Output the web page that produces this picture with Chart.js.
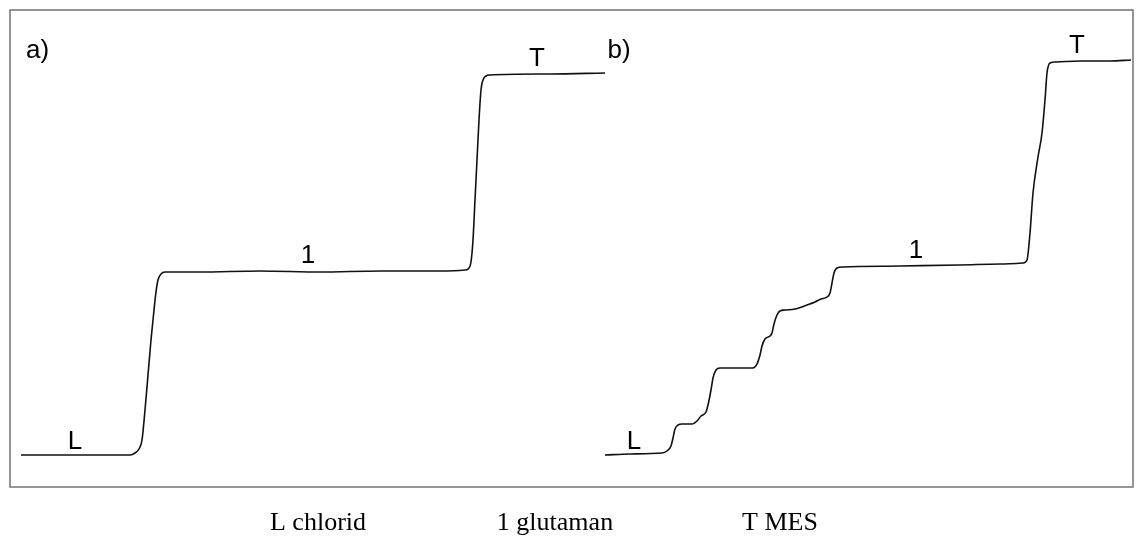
<!DOCTYPE html>
<html>
<head>
<meta charset="utf-8">
<script src="https://cdn.jsdelivr.net/npm/chart.js@4/dist/chart.umd.min.js"></script>
<style>
    html, body { margin: 0; padding: 0; background: #fff; }
    #wrap { width: 1144px; height: 550px; position: relative; }
</style>
</head>
<body>
<div id="wrap"><canvas id="isotachoforeza" width="1144" height="550"></canvas></div>
<script>
// Trace a) - time and detector signal
const aTime = [11, 50, 90, 120, 125, 129, 132, 135, 138, 141, 144, 146, 148, 151, 155, 190, 250, 310, 370, 430,
    455, 459, 461, 463, 465, 467, 469, 471, 473, 476, 480, 540, 595];
const aSignal = [32, 32, 32, 32, 34, 38, 47, 77, 112, 147, 177, 195, 207, 213, 215, 215, 216, 215, 216, 216,
    217, 219, 225, 247, 287, 327, 367, 397, 407, 411, 412, 413, 414];

// Trace b)
const bTime = [595, 620, 652, 657, 661, 663, 665, 668, 672, 682, 687, 691, 696, 698, 701, 703, 706, 710, 730, 743,
    747, 750, 752, 755, 760, 762, 764, 767, 770, 775, 785, 797, 805, 811, 817, 820, 822, 824, 827, 833,
    890, 950, 990, 1013, 1017, 1020, 1023, 1028, 1032, 1035, 1037, 1040, 1046, 1070, 1100, 1121];
const bSignal = [32, 33, 34, 36, 41, 49, 58, 62, 63, 63, 66, 71, 75, 82, 97, 109, 117, 119, 119, 119,
    123, 132, 141, 148, 151, 154, 163, 172, 176, 177, 178, 182, 185, 188, 190, 194, 204, 214, 219, 220,
    221, 222, 223, 224, 227, 254, 294, 330, 354, 387, 414, 424, 425, 426, 426, 427];

// Zone labels placed on the traces
const zoneText = ['a)', 'L', '1', 'T', 'b)', 'L', '1', 'T'];
const zoneTime = [27.5, 65, 298, 527, 609, 624, 906, 1067];
const zoneSignal = [429, 38, 224, 421, 429, 38, 229, 434];

// Key under the figure
const keyText = ['L chlorid', '1 glutaman', 'T MES'];

const toPoints = (xs, ys) => xs.map((x, i) => ({ x: x, y: ys[i] }));

// Draw the frame, zone labels and the key
const decorPlugin = {
    id: 'decor',
    afterDraw(chart) {
        const ctx = chart.ctx;
        const area = chart.chartArea;
        const sx = chart.scales.x;
        const sy = chart.scales.y;
        ctx.save();
        ctx.strokeStyle = '#727272';
        ctx.lineWidth = 1.5;
        ctx.strokeRect(area.left, area.top, area.right - area.left, area.bottom - area.top);

        ctx.fillStyle = '#000';
        ctx.font = '26px "Liberation Sans", Arial, sans-serif';
        ctx.textAlign = 'center';
        ctx.textBaseline = 'alphabetic';
        zoneText.forEach((t, i) => {
            ctx.fillText(t, sx.getPixelForValue(zoneTime[i]), sy.getPixelForValue(zoneSignal[i]));
        });

        // key sits centred under the frame
        ctx.font = '26px "Liberation Serif", "Times New Roman", serif';
        const keyCentre = [318, 555, 780];
        keyText.forEach((t, i) => {
            ctx.fillText(t, keyCentre[i], 530);
        });
        ctx.restore();
    }
};

const traceStyle = {
    borderColor: '#111',
    borderWidth: 1.6,
    pointRadius: 0,
    fill: false,
    cubicInterpolationMode: 'monotone'
};

new Chart(document.getElementById('isotachoforeza'), {
    type: 'line',
    data: {
        datasets: [
            Object.assign({ label: 'a)', data: toPoints(aTime, aSignal) }, traceStyle),
            Object.assign({ label: 'b)', data: toPoints(bTime, bSignal) }, traceStyle)
        ]
    },
    options: {
        responsive: false,
        animation: false,
        devicePixelRatio: 1,
        layout: { padding: { left: 10, top: 10, right: 11, bottom: 63 } },
        plugins: {
            legend: { display: false },
            tooltip: { enabled: false }
        },
        scales: {
            x: { type: 'linear', min: 0, max: 1123, display: false },
            y: { type: 'linear', min: 0, max: 477, display: false }
        }
    },
    plugins: [decorPlugin]
});
</script>
</body>
</html>
